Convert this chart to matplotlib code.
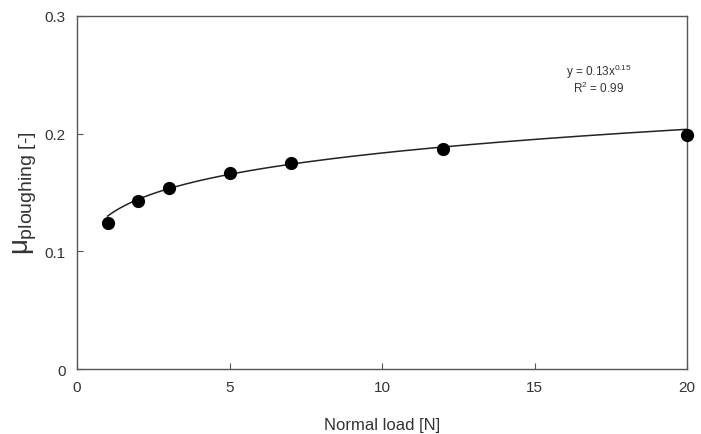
import numpy as np
import matplotlib
matplotlib.use("Agg")
import matplotlib.pyplot as plt

plt.rcParams['font.family'] = ['Liberation Sans', 'DejaVu Sans']
plt.rcParams['mathtext.fontset'] = 'custom'
plt.rcParams['mathtext.rm'] = 'Liberation Sans'
plt.rcParams['mathtext.it'] = 'Liberation Sans'
plt.rcParams['mathtext.bf'] = 'Liberation Sans:bold'

load = [1, 2, 3, 5, 7, 12, 20]
mu_ploughing = [0.124, 0.143, 0.154, 0.167, 0.175, 0.187, 0.199]
fit_a = 0.13
fit_b = 0.15

xticks = [0, 5, 10, 15, 20]
yticks = [0, 0.1, 0.2, 0.3]
yticklabels = ['0', '0.1', '0.2', '0.3']

fig = plt.figure(figsize=(7.01, 4.35), dpi=100)
ax = fig.add_axes([0.110, 0.149, 0.870, 0.812])

xf = np.linspace(min(load), max(load), 300)
ax.plot(xf, fit_a * xf ** fit_b, color='#222222', lw=1.1, zorder=2)
ax.plot(load, mu_ploughing, 'o', color='black', ms=8.5, zorder=3, clip_on=False)

ax.set_xlim(0, 20)
ax.set_ylim(0, 0.3)
ax.set_xticks(xticks)
ax.set_yticks(yticks)
ax.set_yticklabels(yticklabels)
ax.tick_params(direction='in', length=4, width=0.8, color='#555555',
               labelsize=11, labelcolor='#333333', pad=8)
for s in ax.spines.values():
    s.set_color('#555555')
    s.set_linewidth(1.0)

ax.set_xlabel('Normal load [N]', fontsize=12, color='#333333', labelpad=16)
ax.set_ylabel('$\\mu_{\\mathrm{ploughing\\ [\u2010]}}$', fontsize=20, color='#333333', labelpad=4)

ax.text(0.855, 0.845, r'y = 0.13x$^{0.15}$', transform=ax.transAxes, fontsize=8.5,
        ha='center', va='center', color='#333333')
ax.text(0.855, 0.797, r'R$^{2}$ = 0.99', transform=ax.transAxes, fontsize=8.5,
        ha='center', va='center', color='#333333')

fig.savefig('out.png', dpi=100)
